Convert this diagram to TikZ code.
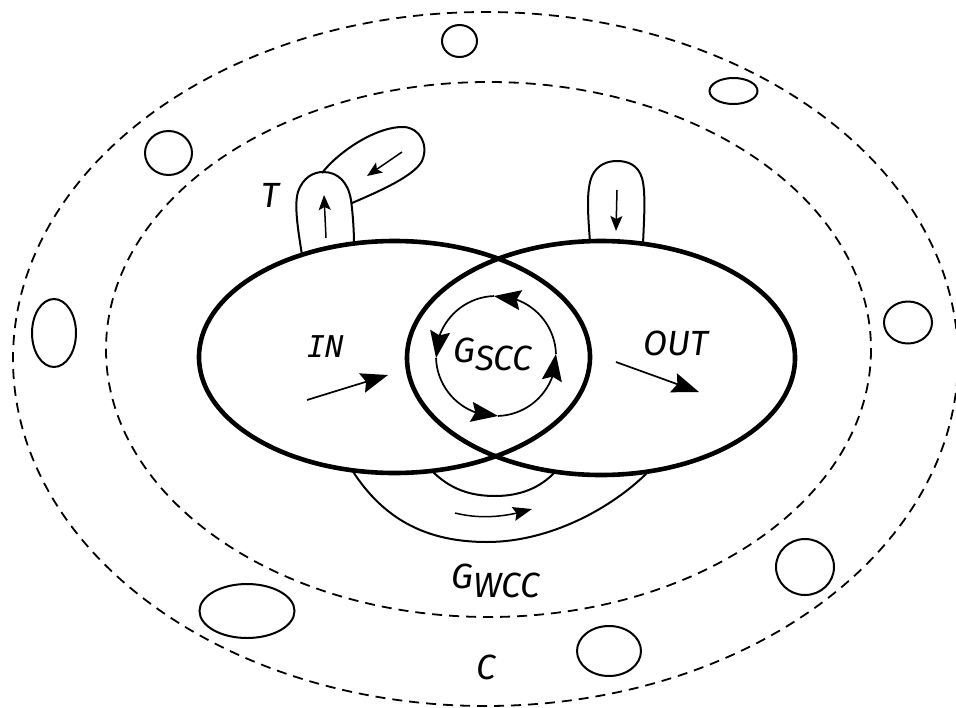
\documentclass[tikz,border=0pt]{standalone}
\usepackage{fontspec}
\setmainfont{Fira Sans}
\newfontfamily\monofont{DejaVu Sans Mono}
\usetikzlibrary{arrows.meta,bending}

\begin{document}
\begin{tikzpicture}[x=1pt,y=-1pt,
  ring/.style={line width=1.8pt, dash pattern=on 10pt off 7pt},
  part/.style={line width=4.6pt},
  blob/.style={line width=2pt},
  thinline/.style={line width=1.7pt},
  bigtip/.style={-{Stealth[length=27pt,width=20pt,inset=4pt,flex]}},
  smalltip/.style={line width=1.5pt,-{Stealth[length=15pt,width=12pt,inset=3pt]}},
  lbl/.style={font=\fontsize{35}{41}\selectfont\itshape, inner sep=0pt, anchor=base west},
  monolbl/.style={font=\fontsize{30}{36}\selectfont\monofont\itshape, inner sep=0pt, anchor=base west}]

\useasboundingbox (0,0) rectangle (956,707);

% centres of the regions
\coordinate (cC)   at (485.5,359);
\coordinate (cW)   at (488.5,349.5);
\coordinate (cIN)  at (394.5,357);
\coordinate (cOUT) at (601,358);
\coordinate (cS)   at (496,356);

% disconnected components and the weakly connected component
\draw[ring] (cC) ellipse [x radius=472.5, y radius=347];
\draw[ring] (cW) ellipse [x radius=382.5, y radius=267.5];

% small components
\draw[blob] (459.5,41)  ellipse [x radius=17.5, y radius=16];
\draw[blob] (733.5,91)  ellipse [x radius=24,   y radius=13];
\draw[blob] (168.5,153) ellipse [x radius=23.5, y radius=22];
\draw[blob] (54,333)    ellipse [x radius=22,   y radius=34];
\draw[blob] (908,322.5) ellipse [x radius=24,   y radius=21];
\draw[blob] (805,567)   ellipse [x radius=29,   y radius=28];
\draw[blob] (609,651)   ellipse [x radius=32,   y radius=25];
\draw[blob] (247,611)   ellipse [x radius=47.5, y radius=27];

% IN and OUT sets
\draw[part] (cIN)  ellipse [x radius=195.5, y radius=116];
\draw[part] (cOUT) ellipse [x radius=194,   y radius=117];

% strongly connected core: circulating arcs
\draw[thinline,bigtip] (cS) ++(-2:60)   arc[start angle=-2,   end angle=-92,  radius=60];
\draw[thinline,bigtip] (cS) ++(-92:60)  arc[start angle=-92,  end angle=-182, radius=60];
\draw[thinline,bigtip] (cS) ++(-182:60) arc[start angle=-182, end angle=-272, radius=60];
\draw[thinline,bigtip] (cS) ++(-272:60) arc[start angle=-272, end angle=-362, radius=60];

% flow arrows in IN and OUT
\coordinate (inA)  at (307,400);
\coordinate (inB)  at (388,375);
\coordinate (outA) at (616,362);
\coordinate (outB) at (699,392);
\draw[thinline,bigtip] (inA) -- (inB);
\draw[thinline,bigtip] (outA) -- (outB);

% tendrils hanging off IN
\draw[blob] (302,255) .. controls (298,230) and (294,205) .. (298,192)
  .. controls (303,177) and (314,172) .. (323,172)
  .. controls (338,172) and (348,182) .. (351,200)
  .. controls (353,215) and (354,232) .. (354,244);
\draw[blob] (322,173) .. controls (340,150) and (378,126) .. (404,127)
  .. controls (420,128) and (429,145) .. (422,161)
  .. controls (414,176) and (380,191) .. (352,203);
\coordinate (t1A) at (326,238);
\coordinate (t1B) at (324,195);
\coordinate (t2A) at (402,152);
\coordinate (t2B) at (367,176);
\draw[smalltip] (t1A) -- (t1B);
\draw[smalltip] (t2A) -- (t2B);

% tendril hanging off OUT
\draw[blob] (590,242) .. controls (588,215) and (586,190) .. (592,176)
  .. controls (597,165) and (607,161) .. (617,161)
  .. controls (628,161) and (638,165) .. (642,178)
  .. controls (646,192) and (644,220) .. (643,244);
\coordinate (t3A) at (617,190);
\coordinate (t3B) at (616,231);
\draw[smalltip] (t3A) -- (t3B);

% tube from IN to OUT
\draw[blob] (352,470) .. controls (385,522) and (430,542) .. (487,542)
  .. controls (550,542) and (612,508) .. (648,472);
\draw[blob] (432,471) .. controls (450,489) and (470,496) .. (495,496)
  .. controls (520,496) and (540,488) .. (555,472);
\coordinate (tuA) at (455,513);
\coordinate (tuB) at (532,509);
\draw[line width=1.5pt,-{Stealth[length=19pt,width=14pt,inset=3pt,flex]}]
  (tuA) .. controls (475,518) and (500,519) .. (tuB);

% labels
\node[monolbl] (lIN)  at (307,357) {IN};
\node[lbl]     (lOUT) at (643,355) {OUT};
\node[lbl]     (lT)   at (261,207) {T};
\node[lbl]     (lS)   at (453,362) {G\raisebox{-8pt}{SCC}};
\node[lbl]     (lW)   at (451,588) {G\raisebox{-9pt}{WCC}};
\node[lbl]     (lC)   at (476,679) {C};
\end{tikzpicture}
\end{document}
